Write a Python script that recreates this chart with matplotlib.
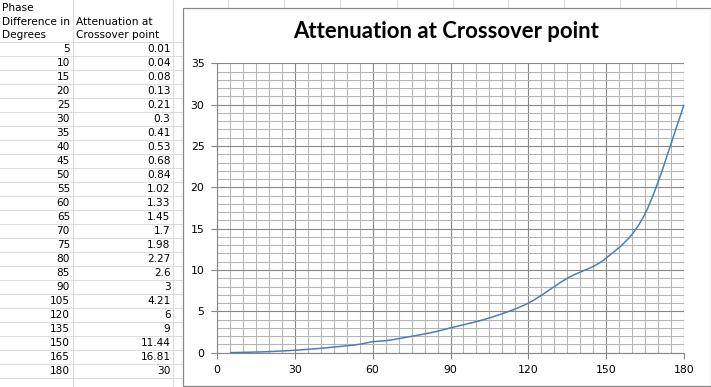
import matplotlib
matplotlib.use("Agg")
import matplotlib.pyplot as plt
from matplotlib.path import Path
from matplotlib.patches import PathPatch, Rectangle
from matplotlib.ticker import MultipleLocator

# ---- data ----
phase_deg = [5, 10, 15, 20, 25, 30, 35, 40, 45, 50, 55, 60, 65, 70, 75, 80, 85, 90,
             105, 120, 135, 150, 165, 180]
attenuation = [0.01, 0.04, 0.08, 0.13, 0.21, 0.3, 0.41, 0.53, 0.68, 0.84, 1.02, 1.33,
               1.45, 1.7, 1.98, 2.27, 2.6, 3, 4.21, 6, 9, 11.44, 16.81, 30]
header_a = ["Phase", "Difference in", "Degrees"]
header_b = ["Attenuation at", "Crossover point"]
title = "Attenuation at Crossover point"
x_ticks = [0, 30, 60, 90, 120, 150, 180]
y_ticks = [0, 5, 10, 15, 20, 25, 30, 35]

W, H = 711, 387
fig = plt.figure(figsize=(W / 100, H / 100), dpi=100)

# ---- spreadsheet background (pixel coordinates) ----
bg = fig.add_axes([0, 0, 1, 1])
bg.set_xlim(0, W)
bg.set_ylim(H, 0)
bg.axis("off")
grid_c = "#DADCDD"
row0 = 42
pitch = 14
for k in range(0, 26):
    y = row0 + pitch * k
    bg.plot([0, W], [y, y], color=grid_c, lw=0.75, zorder=1)
for x in [72.7, 172.7, 228, 284, 340, 396.5, 452.5, 508, 564, 620, 676]:
    bg.plot([x, x], [0, H], color=grid_c, lw=0.75, zorder=1)

tfont = dict(family="DejaVu Sans", fontsize=7.6, color="black")
for i, t in enumerate(header_a):
    bg.text(2, 8 + 13.6 * i, t, ha="left", va="center", zorder=2, **tfont)
for i, t in enumerate(header_b):
    bg.text(76, 21.6 + 13.6 * i, t, ha="left", va="center", zorder=2, **tfont)
for i, (p, a) in enumerate(zip(phase_deg, attenuation)):
    yc = row0 + pitch * i + pitch / 2
    bg.text(70, yc, f"{p:g}", ha="right", va="center", zorder=2, **tfont)
    bg.text(170.5, yc, f"{a:g}", ha="right", va="center", zorder=2, **tfont)

# chart frame
bg.add_patch(Rectangle((182.5, 7.5), 528, 378.5, facecolor="white",
                       edgecolor="#898989", lw=0.9, zorder=5))
bg.text(446, 32, title, ha="center", va="center", fontsize=15.9,
        fontweight="bold", family="Lato", color="black", zorder=6)

# ---- plot area ----
L, R, T, B = 217, 684, 63.3, 352.7
ax = fig.add_axes([L / W, 1 - B / H, (R - L) / W, (B - T) / H])
ax.set_xlim(0, 180)
ax.set_ylim(0, 35)
ax.xaxis.set_major_locator(MultipleLocator(30))
ax.xaxis.set_minor_locator(MultipleLocator(5))
ax.yaxis.set_major_locator(MultipleLocator(5))
ax.yaxis.set_minor_locator(MultipleLocator(1))
ax.set_xticks(x_ticks)
ax.set_yticks(y_ticks)
ax.grid(which="major", color="#878787", lw=0.8)
ax.grid(which="minor", color="#B4B4B4", lw=0.75)
ax.set_axisbelow(True)
for s in ["top", "right"]:
    ax.spines[s].set_visible(False)
for s in ["left", "bottom"]:
    ax.spines[s].set_color("#868686")
    ax.spines[s].set_linewidth(0.8)
ax.tick_params(which="minor", length=0)
ax.tick_params(which="major", length=4, width=0.8, color="#868686",
               labelsize=7.8, pad=5)
for lab in ax.get_xticklabels() + ax.get_yticklabels():
    lab.set_family("DejaVu Sans")

# smoothed line (cubic Bezier through the data points, Excel-style)
pts = list(zip(phase_deg, attenuation))
verts = [pts[0]]
codes = [Path.MOVETO]
n = len(pts)
for i in range(n - 1):
    p0 = pts[i - 1] if i > 0 else pts[i]
    p1 = pts[i]
    p2 = pts[i + 1]
    p3 = pts[i + 2] if i + 2 < n else pts[i + 1]
    c1 = (p1[0] + (p2[0] - p0[0]) / 6, p1[1] + (p2[1] - p0[1]) / 6)
    c2 = (p2[0] - (p3[0] - p1[0]) / 6, p2[1] - (p3[1] - p1[1]) / 6)
    verts += [c1, c2, p2]
    codes += [Path.CURVE4] * 3
ax.add_patch(PathPatch(Path(verts, codes), facecolor="none",
                       edgecolor="#4A7EBB", lw=1.1, clip_on=False, zorder=3))

fig.savefig("out.png", dpi=100)
